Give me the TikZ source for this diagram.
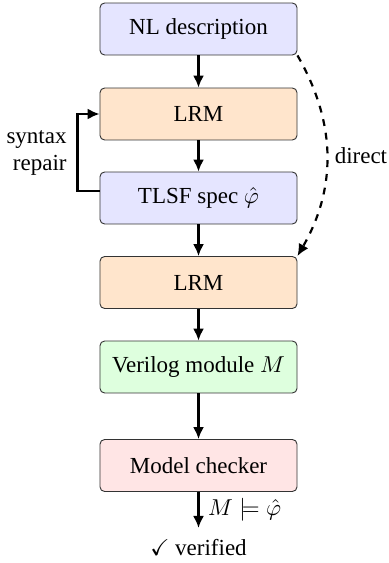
\documentclass[tikz,border=0pt]{standalone}
\usepackage{amssymb}
\usepackage{fontspec}
\setmainfont{Liberation Serif}
\usetikzlibrary{arrows.meta}

\definecolor{specblue}{rgb}{.9,.9,1}
\definecolor{lrmorange}{rgb}{1,.9,.8}
\definecolor{codegreen}{rgb}{.87,1,.87}
\definecolor{checkred}{rgb}{1,.9,.9}

\begin{document}
\begin{tikzpicture}[x=.435pt,y=-.435pt,
  box/.style={draw=black!80, rounded corners=2pt, minimum width=85.7pt,
    minimum height=22.6pt, inner sep=0pt},
  flow/.style={line width=.95pt, -{Latex[length=5.2pt,width=4.8pt]}}]
\useasboundingbox (0,0) rectangle (388,563);

\node [box, fill=specblue] (nl) at (198.5,29){NL description};
\node [box, fill=lrmorange] (lrma) at (198.5,114){LRM};
\node [box, fill=specblue] (tlsf) at (198.5,198){TLSF spec $\hat\varphi$};
\node [box, fill=lrmorange] (lrmb) at (198.5,282.5){LRM};
\node [box, fill=codegreen] (veri) at (198.5,367){Verilog module $M$};
\node [box, fill=checkred] (mc) at (198.5,465.5){Model checker};
\node [inner sep=0pt] (ok) at (198.5,548){$\checkmark$ verified};

\draw [flow] (nl) -- (lrma);
\draw [flow] (lrma) -- (tlsf);
\draw [flow] (tlsf) -- (lrmb);
\draw [flow] (lrmb) -- (veri);
\draw [flow] (veri) -- (mc);
\draw [flow] (mc.south) -- coordinate [pos=.5] (m) ++(0,36);
\node [right, inner sep=4pt] at (m){$M \models \hat\varphi$};

% repair loop
\draw [flow] (tlsf.west) ++(0,-7) coordinate (r) -- ++(-22,0) |- (lrma.west);
\node [align=right, anchor=east, inner sep=0pt] at (67,153){syntax\\repair};

% shortcut
\draw [flow, dashed] (nl.south east) to [bend left=30]
  node [right, pos=.5, inner sep=3pt]{direct} (lrmb.north east);
\end{tikzpicture}
\end{document}
